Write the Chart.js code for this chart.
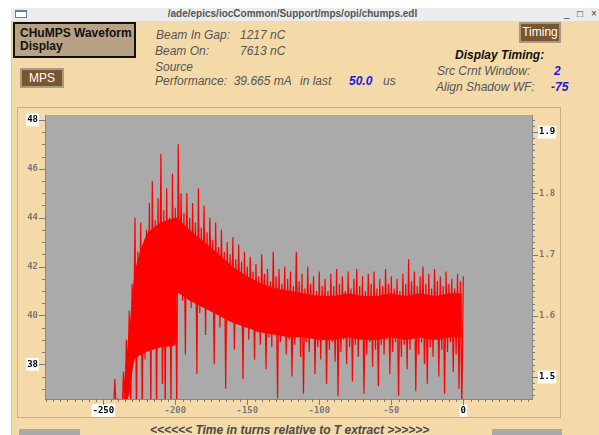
<!DOCTYPE html>
<html lang="en">
  <head>
    <meta charset="UTF-8">
    <title>chumps.edl</title>
    <script src="https://cdn.jsdelivr.net/npm/chart.js"></script>
    <style>
      body { margin: 0; width: 599px; height: 435px; background: #fff; position: relative; overflow: hidden; font-family: 'Liberation Sans', sans-serif; }
      .abs { position: absolute; white-space: nowrap; line-height: 14px; }
      #win { position: absolute; left: 11px; top: 8px; right: 0; bottom: 0; background: #f4d9a9; border-left: 1px solid #d8c8a8; }
      #titlebar { position: absolute; left: 11px; top: 8px; width: 588px; height: 13px; background: #ececec; }
      .lbl { font-style: italic; font-size: 12px; color: #555; }
      .val { font-style: italic; font-weight: bold; font-size: 12px; color: #1a1ae6; }
      .btn { position: absolute; background: #7b5430; color: #fff; font-size: 12px; text-align: center; border: 2px solid #a89a88; box-sizing: border-box; }
      #frame { position: absolute; left: 17px; top: 107px; width: 544px; height: 311px; border: 1px solid #c9ae84; box-sizing: border-box; }
      #chart { position: absolute; left: 17px; top: 107px; }
    </style>
  </head>
  <body>
  <div id="win"></div>
  <div id="titlebar"></div>
  <div class="abs" style="left:15px;top:10px;width:10px;height:5px;border:1px solid #5a7fb8;border-top-width:2px;background:#fff;line-height:0"></div>
  <div class="abs" style="left:0;width:585px;top:7px;text-align:center;font-weight:bold;font-size:10px;color:#555">/ade/epics/iocCommon/Support/mps/opi/chumps.edl</div>
  <div class="abs" style="left:564px;top:7px;font-size:10px;color:#444">_</div>
  <div class="abs" style="left:577px;top:7px;font-size:10px;color:#444">&#9633;</div>
  <div class="abs" style="left:591px;top:7px;font-size:10px;color:#444">&#215;</div>

  <div class="abs" style="left:13px;top:22px;width:123px;height:36px;background:#b9a283;border:2px solid #111;box-sizing:border-box;font-weight:bold;font-size:12px;color:#111;padding:3px 0 0 5px;line-height:13px">CHuMPS Waveform<br>Display</div>
  <div class="btn" style="left:20px;top:68px;width:44px;height:20px;line-height:16px">MPS</div>

  <div class="abs lbl" style="left:156px;top:28px">Beam In Gap:</div>
  <div class="abs lbl" style="left:240px;top:28px">1217 nC</div>
  <div class="abs lbl" style="left:155px;top:44px">Beam On:</div>
  <div class="abs lbl" style="left:240px;top:44px">7613 nC</div>
  <div class="abs lbl" style="left:155px;top:60px">Source</div>
  <div class="abs lbl" style="left:155px;top:74px">Performance:&nbsp; 39.665 mA</div>
  <div class="abs lbl" style="left:300px;top:74px">in last</div>
  <div class="abs val" style="left:349px;top:74px">50.0</div>
  <div class="abs lbl" style="left:383px;top:74px">us</div>

  <div class="btn" style="left:519px;top:22px;width:42px;height:21px;line-height:17px">Timing</div>
  <div class="abs" style="left:455px;top:48px;font-style:italic;font-weight:bold;font-size:12px;color:#111">Display Timing:</div>
  <div class="abs lbl" style="left:437px;top:64px">Src Crnt Window:</div>
  <div class="abs val" style="left:554px;top:64px">2</div>
  <div class="abs lbl" style="left:436px;top:80px">Align Shadow WF:</div>
  <div class="abs val" style="left:551px;top:80px">-75</div>

  <div id="frame"></div>
  <canvas id="chart" width="544" height="311"></canvas>

  <div class="abs" style="left:19px;top:429px;width:61px;height:6px;background:#a9a9a9"></div>
  <div class="abs" style="left:492px;top:429px;width:70px;height:6px;background:#a9a9a9"></div>
  <div class="abs" style="left:150px;top:423px;font-style:italic;font-weight:bold;font-size:12px;color:#4a4a4a">&lt;&lt;&lt;&lt;&lt;&lt; Time in turns relative to T extract &gt;&gt;&gt;&gt;&gt;&gt;</div>

    <script>
    // waveform, upper peaks at even turns, lower dips at odd turns
    const firstTurn = -244;
    const peaks = [
      36.0, 37.4, 36.6, 36.2, 37.7, 39.0, 40.2, 41.3, 44.0, 42.6,
      43.8, 42.9, 43.5, 44.6, 45.5, 43.9, 44.8, 46.6, 44.3, 45.2,
      44.0, 45.8, 44.4, 47.0, 45.0, 44.2, 45.0, 44.0, 44.6, 43.8,
      45.2, 43.6, 44.5, 43.4, 44.0, 43.1, 43.8, 42.8, 43.5, 42.6,
      43.0, 42.5, 43.2, 42.3, 42.9, 42.2, 42.6, 42.0, 42.4, 41.8,
      42.1, 41.6, 42.5, 41.7, 41.9, 41.4, 42.6, 41.6, 41.9, 41.3,
      42.0, 41.5, 41.8, 41.2, 42.6, 41.4, 41.7, 41.1, 42.0, 41.3,
      41.6, 41.0, 41.8, 41.2, 41.5, 41.0, 41.7, 41.2, 41.9, 41.3,
      41.6, 41.0, 41.8, 41.1, 41.5, 41.9, 41.2, 41.6, 41.0, 41.7,
      41.3, 41.8, 41.1, 41.5, 41.2, 41.9, 41.3, 41.6, 41.1, 41.5,
      41.0, 41.7, 41.3, 42.3, 41.4, 41.8, 41.2, 41.6, 42.0, 41.3,
      41.7, 41.1, 41.9, 41.4, 41.6, 41.2, 41.8, 41.3, 41.5, 41.1,
      41.7, 41.4, 41.6
    ];
    const dips = [
      36.0, 36.0, 36.0, 36.0, 36.0, 37.5, 36.0, 38.6, 36.0, 39.4,
      36.0, 38.2, 39.6, 36.0, 39.0, 36.0, 39.8, 37.2, 36.0, 39.5,
      36.0, 38.8, 36.0, 41.2, 40.6, 38.4, 41.0, 40.3, 41.3, 37.6,
      40.1, 40.8, 39.2, 40.5, 40.9, 38.0, 40.2, 39.5, 40.4, 37.0,
      39.8, 40.1, 38.6, 39.7, 40.0, 37.4, 39.5, 39.0, 39.8, 38.2,
      39.3, 38.8, 39.6, 37.8, 39.1, 38.7, 39.4, 36.6, 38.9, 39.3,
      38.4, 39.0, 37.5, 38.8, 39.2, 38.3, 36.8, 38.9, 38.5, 39.1,
      37.6, 38.7, 38.2, 39.0, 37.2, 38.6, 38.9, 38.1, 36.7, 38.5,
      39.0, 38.0, 38.7, 37.3, 38.8, 38.3, 39.1, 36.8, 38.4, 38.9,
      37.9, 38.6, 37.1, 38.8, 38.4, 39.0, 37.6, 38.5, 38.9, 36.7,
      38.3, 38.8, 37.8, 38.6, 39.1, 36.9, 38.4, 38.9, 38.0, 37.2,
      38.7, 38.3, 39.0, 37.5, 38.6, 36.8, 38.5, 38.9, 37.7, 38.4,
      37.0, 36.2
    ];
    // solid part of the trace (where the samples overlap into one red band)
    const coreTurns  = [-236, -232, -228, -220, -210, -200, -199, -190, -180, -170, -160, -150, -140,
                        -130, -120, -110, -100, -90, -80, -70, -60, -50, -40, -30, -20, -10, -1];
    const coreTop    = [37.0, 39.3, 41.8, 43.3, 43.8, 44.0, 44.0, 43.5, 43.0, 42.5, 42.0, 41.6, 41.3,
                        41.1, 41.0, 40.9, 40.8, 40.8, 40.9, 40.8, 40.8, 40.9, 40.8, 40.9, 40.8, 40.9, 40.9];
    const coreBottom = [36.0, 36.8, 38.2, 38.5, 38.7, 38.8, 40.9, 40.6, 40.3, 40.0, 39.7, 39.5, 39.3,
                        39.2, 39.1, 39.1, 39.0, 39.0, 39.1, 39.0, 39.0, 39.1, 39.0, 39.1, 39.0, 39.1, 39.1];
    const xMin = -290.5, xMax = 47.7;
    const yMin = 36.58, yMax = 48.2;
    const y2Min = 1.464, y2Max = 1.928;

    const wave = [];
    peaks.forEach((v, i) => {
      wave.push({x: firstTurn + 2 * i, y: v});
      if (i < dips.length) wave.push({x: firstTurn + 2 * i + 1, y: dips[i]});
    });
    const coreLo = coreTurns.map((t, i) => ({x: t, y: coreBottom[i]}));
    const coreHi = coreTurns.map((t, i) => ({x: t, y: coreTop[i]}));

    const near = (v, step) => Math.abs(v / step - Math.round(v / step)) < 1e-6;
    const tickFont = {family: 'DejaVu Sans Mono', size: 9, weight: 'bold'};

    const plotBg = {
      id: 'plotBg',
      beforeDraw(chart) {
        const {ctx, chartArea: a} = chart;
        ctx.save();
        ctx.fillStyle = '#aaaaaa';
        ctx.fillRect(a.left, a.top, a.right - a.left, a.bottom - a.top);
        ctx.restore();
      }
    };
    // long ticks where there is a label, short ones between
    const tickMarks = {
      id: 'tickMarks',
      afterDraw(chart) {
        const {ctx, chartArea: a} = chart;
        ctx.save();
        ctx.strokeStyle = '#7a7a7a';
        ctx.lineWidth = 1;
        Object.values(chart.scales).forEach(s => {
          s.ticks.forEach((t, i) => {
            const p = Math.round(s.getPixelForTick(i)) + 0.5;
            const len = s.ticks[i].label ? 6 : 3;
            ctx.beginPath();
            if (s.id === 'x') { ctx.moveTo(p, a.bottom); ctx.lineTo(p, a.bottom + len); }
            else if (s.id === 'y') { ctx.moveTo(a.left, p); ctx.lineTo(a.left - len, p); }
            else { ctx.moveTo(a.right, p); ctx.lineTo(a.right + len, p); }
            ctx.stroke();
          });
        });
        ctx.restore();
      }
    };

    const isEnd = (c, ends) => c.tick && ends.some(e => Math.abs(c.tick.value - e) < 1e-6);

    new Chart(document.getElementById('chart'), {
      type: 'line',
      data: {
        datasets: [
          {data: coreLo, borderWidth: 0, borderColor: 'rgba(0,0,0,0)', pointRadius: 0, tension: 0.2, fill: false},
          {data: coreHi, borderWidth: 0, borderColor: 'rgba(0,0,0,0)', pointRadius: 0, tension: 0.2,
           fill: '-1', backgroundColor: '#ff0000'},
          {
            data: wave,
            borderColor: '#ff0000',
            borderWidth: 1.2,
            pointRadius: 0,
            tension: 0,
            yAxisID: 'y'
          }
        ]
      },
      options: {
        responsive: false,
        animation: false,
        layout: {padding: {top: 8, left: 0, right: 0, bottom: 0}},
        plugins: {legend: {display: false}, tooltip: {enabled: false}},
        scales: {
          x: {
            type: 'linear', min: xMin, max: xMax,
            afterFit: s => { s.height = 19; },
            grid: {display: false, drawTicks: true, tickLength: 6},
            border: {color: '#888'},
            ticks: {
              stepSize: 5, includeBounds: false, autoSkip: false, maxRotation: 0, padding: 0,
              font: tickFont,
              callback: v => near(v, 50) ? String(Math.round(v)) : '',
              color: c => isEnd(c, [-250, 0]) ? '#000' : '#777',
              showLabelBackdrop: c => isEnd(c, [-250, 0]),
              backdropColor: '#fff', backdropPadding: 1
            }
          },
          y: {
            position: 'left', min: yMin, max: yMax,
            afterFit: s => { s.width = 28; },
            grid: {display: false, drawTicks: true, tickLength: 6},
            border: {color: '#888'},
            ticks: {
              stepSize: 0.5, includeBounds: false, autoSkip: false, padding: 1,
              font: tickFont,
              callback: v => near(v, 2) ? String(Math.round(v)) : '',
              color: c => isEnd(c, [48, 38]) ? '#000' : '#777',
              showLabelBackdrop: c => isEnd(c, [48, 38]),
              backdropColor: '#fff', backdropPadding: 1
            }
          },
          y2: {
            position: 'right', min: y2Min, max: y2Max,
            afterFit: s => { s.width = 29; },
            grid: {display: false, drawTicks: true, tickLength: 6},
            border: {color: '#888'},
            ticks: {
              stepSize: 0.01, includeBounds: false, autoSkip: false, padding: 1,
              font: tickFont,
              callback: v => near(v, 0.1) ? v.toFixed(1) : '',
              color: c => isEnd(c, [1.9, 1.5]) ? '#000' : '#777',
              showLabelBackdrop: c => isEnd(c, [1.9, 1.5]),
              backdropColor: '#fff', backdropPadding: 1
            }
          }
        }
      },
      plugins: [plotBg, tickMarks]
    });
    </script>
  </body>
</html>
